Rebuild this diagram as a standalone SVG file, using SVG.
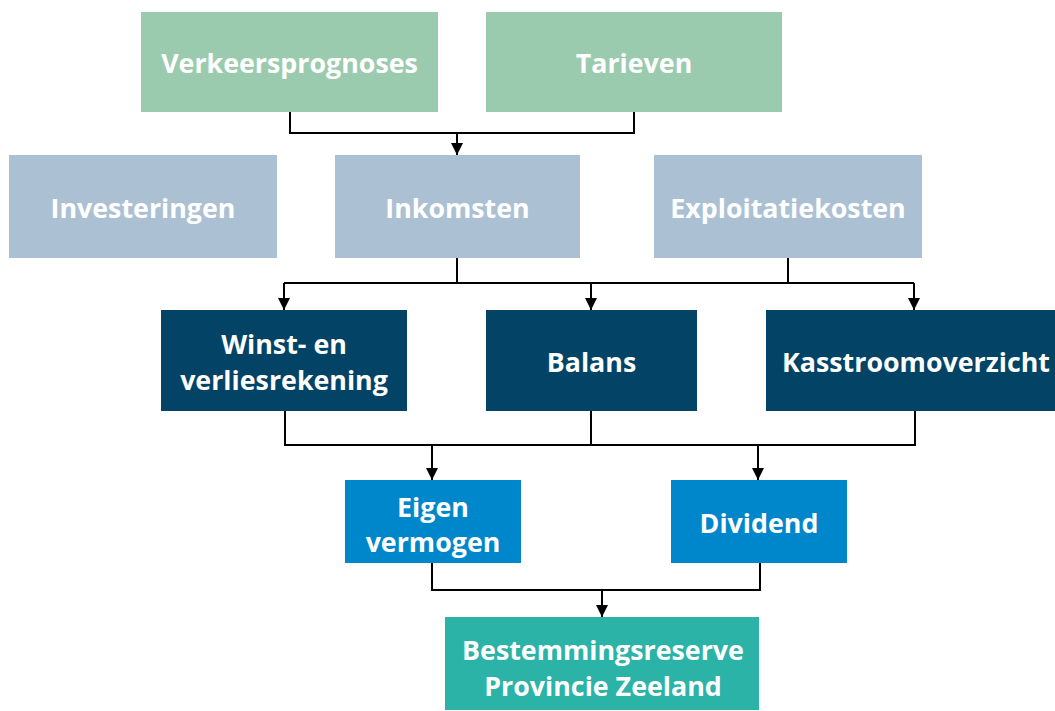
<svg xmlns="http://www.w3.org/2000/svg" width="1055" height="711" viewBox="0 0 1055 711">
<style>
.t{font-family:"Open Sans","Liberation Sans",sans-serif;font-weight:bold;font-size:26.8px;fill:#fff;text-anchor:middle;dominant-baseline:central}
.c{fill:none;stroke:#000;stroke-width:2}
.g{fill:#9BCBAE}.l{fill:#ABC1D3}.n{fill:#024366}.b{fill:#0086CB}.q{fill:#2CB3A8}
</style>
<defs>
<marker id="a" markerWidth="12" markerHeight="12" refX="12" refY="6" orient="auto" markerUnits="userSpaceOnUse" viewBox="0 0 12 12">
<path d="M0,0 L12,6 L0,12 Z" fill="#000"/>
</marker>
</defs>
<rect width="1055" height="711" fill="#fff"/>
<g id="connectors">
<path class="c" d="M290,112 V133 H634 V112"/>
<path class="c" d="M457,133 V155" marker-end="url(#a)"/>
<path class="c" d="M457,258 V283 M788,258 V283 M284,283 H914"/>
<path class="c" d="M284,283 V310" marker-end="url(#a)"/>
<path class="c" d="M591,283 V310" marker-end="url(#a)"/>
<path class="c" d="M914,283 V310" marker-end="url(#a)"/>
<path class="c" d="M285,411 V445 H915 V411 M591,411 V445"/>
<path class="c" d="M432,445 V480" marker-end="url(#a)"/>
<path class="c" d="M758,445 V480" marker-end="url(#a)"/>
<path class="c" d="M432,563 V590 H760 V563"/>
<path class="c" d="M602,590 V617" marker-end="url(#a)"/>
</g>
<g id="verkeersprognoses"><rect class="g" x="141" y="12" width="297" height="100"/><text class="t" x="289.5" y="62">Verkeersprognoses</text></g>
<g id="tarieven"><rect class="g" x="486" y="12" width="296" height="100"/><text class="t" x="634" y="62">Tarieven</text></g>
<g id="investeringen"><rect class="l" x="9" y="155" width="268" height="103"/><text class="t" x="143" y="207">Investeringen</text></g>
<g id="inkomsten"><rect class="l" x="335" y="155" width="245" height="103"/><text class="t" x="457.5" y="207">Inkomsten</text></g>
<g id="exploitatiekosten"><rect class="l" x="654" y="155" width="268" height="103"/><text class="t" x="788" y="207">Exploitatiekosten</text></g>
<g id="winst"><rect class="n" x="161" y="310" width="246" height="101"/><text class="t" x="284" y="343">Winst- en</text><text class="t" x="284" y="379">verliesrekening</text></g>
<g id="balans"><rect class="n" x="486" y="310" width="211" height="101"/><text class="t" x="591.5" y="361">Balans</text></g>
<g id="kasstroom"><rect class="n" x="766" y="310" width="289" height="101"/><text class="t" x="916" y="361">Kasstroomoverzicht</text></g>
<g id="eigen"><rect class="b" x="345" y="480" width="176" height="83"/><text class="t" x="433" y="506">Eigen</text><text class="t" x="433" y="541">vermogen</text></g>
<g id="dividend"><rect class="b" x="671" y="480" width="176" height="83"/><text class="t" x="759" y="522">Dividend</text></g>
<g id="bestemmingsreserve"><rect class="q" x="445" y="617" width="314" height="93"/><text class="t" x="603" y="649">Bestemmingsreserve</text><text class="t" x="603" y="685">Provincie Zeeland</text></g>
</svg>
